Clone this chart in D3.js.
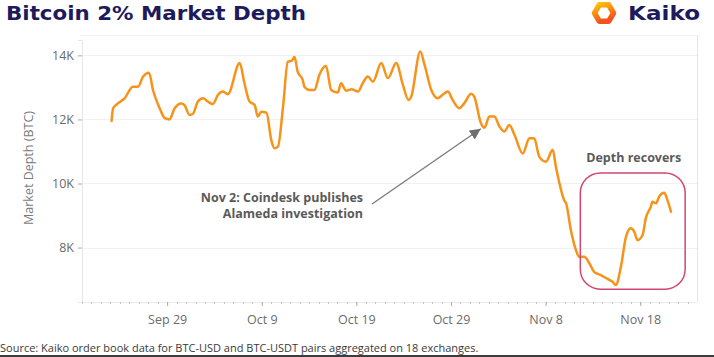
<!DOCTYPE html>
<html><head><meta charset="utf-8">
<script src="https://cdn.jsdelivr.net/npm/d3@7"></script>
<style>html,body{margin:0;padding:0;background:#fff;overflow:hidden}</style>
</head><body><svg id="c" width="714" height="357"></svg>
<script>
const dates = [
"2022-09-23T03","2022-09-23T07","2022-09-23T19","2022-09-24T12","2022-09-25T09","2022-09-25T22","2022-09-26T11","2022-09-27T02","2022-09-27T12","2022-09-28T05",
"2022-09-28T18","2022-09-29T06","2022-09-29T19","2022-09-30T12","2022-09-30T20","2022-10-01T09","2022-10-01T17","2022-10-02T06","2022-10-02T19","2022-10-03T07",
"2022-10-03T20","2022-10-04T09","2022-10-04T21","2022-10-05T10","2022-10-06T16","2022-10-07T04","2022-10-07T17","2022-10-08T06","2022-10-08T14","2022-10-08T23",
"2022-10-09T12","2022-10-10T00","2022-10-10T08","2022-10-10T17","2022-10-11T06","2022-10-11T18","2022-10-12T05","2022-10-12T11","2022-10-12T19","2022-10-13T08",
"2022-10-13T12","2022-10-14T01","2022-10-14T14","2022-10-15T02","2022-10-15T19","2022-10-16T08","2022-10-17T01","2022-10-17T09","2022-10-17T22","2022-10-18T12",
"2022-10-19T04","2022-10-19T16","2022-10-20T05","2022-10-20T18","2022-10-21T15","2022-10-22T08","2022-10-23T05","2022-10-23T22","2022-10-24T12","2022-10-24T19",
"2022-10-25T18","2022-10-26T05","2022-10-26T22","2022-10-27T14","2022-10-28T03","2022-10-28T16","2022-10-29T04","2022-10-29T21","2022-10-30T10","2022-10-31T03",
"2022-10-31T11","2022-11-01T04","2022-11-01T13","2022-11-02T01","2022-11-02T14","2022-11-03T03","2022-11-03T15","2022-11-04T04","2022-11-04T17","2022-11-05T14",
"2022-11-06T07","2022-11-06T19","2022-11-07T08","2022-11-08T01","2022-11-08T18","2022-11-09T02","2022-11-09T11","2022-11-09T23","2022-11-10T04","2022-11-10T16",
"2022-11-11T05","2022-11-11T13","2022-11-12T02","2022-11-12T15","2022-11-13T03","2022-11-13T20","2022-11-14T13","2022-11-15T02","2022-11-15T10","2022-11-15T23",
"2022-11-16T12","2022-11-17T00","2022-11-17T09","2022-11-17T17","2022-11-18T06","2022-11-18T14","2022-11-19T03","2022-11-19T07","2022-11-19T16","2022-11-20T00",
"2022-11-20T13","2022-11-20T21","2022-11-21T06"];
const depth = [
11950,12350,12500,12660,13020,13020,13340,13460,12920,12350,
12040,12000,12350,12500,12450,12140,12170,12560,12660,12560,
12480,12770,12870,12790,13760,13130,12560,12450,12090,12240,
12210,11360,11100,11150,12400,13800,13840,13960,13490,13230,
13020,12920,12920,13390,13670,12920,12840,13130,12900,12940,
12870,13130,13340,13180,13760,13290,13760,13080,12610,12710,
14120,13700,12920,12660,12770,12870,12610,12350,12510,12800,
12710,11880,11740,12090,12090,11780,11620,11830,11520,10940,
11410,11410,10840,10680,11050,10530,10010,9480,9380,8550,
7920,7710,7710,7510,7240,7140,7020,6930,6830,7400,
8340,8600,8490,8230,8390,8910,9280,9430,9380,9590,
9710,9480,9120];
const yTicks = [8000, 10000, 12000, 14000];
const yTickLabels = ["8K", "10K", "12K", "14K"];
const xTickDates = ["2022-09-29","2022-10-09","2022-10-19","2022-10-29","2022-11-08","2022-11-18"];
const xTickLabels = ["Sep 29","Oct 9","Oct 19","Oct 29","Nov 8","Nov 18"];
const titleText = "Bitcoin 2% Market Depth";
const brandText = "Kaiko";
const yTitleText = "Market Depth (BTC)";
const sourceText = "Source: Kaiko order book data for BTC-USD and BTC-USDT pairs aggregated on 18 exchanges.";
const note1Lines = ["Nov 2: Coindesk publishes", "Alameda investigation"];
const note1Target = ["2022-11-01T06", 11740];
const note2Text = "Depth recovers";
const boxRange = {from: "2022-11-11T16", to: "2022-11-22T18", low: 6700, high: 10330};
const xDomain = ["2022-09-20T00", "2022-11-24T00"];
const yDomain = [6300, 14480];

const parse = d3.utcParse("%Y-%m-%dT%H");
const parseDay = d3.utcParse("%Y-%m-%d");
const data = dates.map((d, i) => ({t: parse(d), v: depth[i]}));

const svg = d3.select("#c");
const W = 714, H = 357;
const m = {l: 82, r: 697, t: 40, b: 302};
const FONT = "'Open Sans', 'DejaVu Sans', sans-serif";
const HEAD = "'DejaVu Sans', sans-serif";

svg.append("rect").attr("width", W).attr("height", H).attr("fill", "#fff");
const defs = svg.append("defs");

const x = d3.scaleUtc().domain(xDomain.map(parse)).range([m.l, m.r]);
const y = d3.scaleLinear().domain(yDomain).range([m.b, m.t]);

// title
svg.append("text").attr("x", 6).attr("y", 19.5).attr("font-family", HEAD)
  .attr("font-weight", 700).attr("font-size", 20).attr("fill", "#1d1b5c")
  .attr("textLength", 300).attr("lengthAdjust", "spacingAndGlyphs").text(titleText);

// logo
const logo = svg.append("g").attr("transform", "translate(604,13)");
const grad = defs.append("linearGradient").attr("id", "lg")
  .attr("x1", "0").attr("y1", "0").attr("x2", "0.4").attr("y2", "1");
grad.append("stop").attr("offset", "0").attr("stop-color", "#ffc107");
grad.append("stop").attr("offset", "1").attr("stop-color", "#f4511e");
const hex = d3.range(6).map(i => [9.5 * Math.cos(Math.PI / 3 * i), 9.5 * Math.sin(Math.PI / 3 * i)]);
logo.append("path").attr("d", "M" + hex.join("L") + "Z").attr("fill", "none")
  .attr("stroke", "url(#lg)").attr("stroke-width", 5.5).attr("stroke-linejoin", "round");
svg.append("text").attr("x", 628).attr("y", 19.5).attr("font-family", HEAD)
  .attr("font-weight", 700).attr("font-size", 20).attr("fill", "#1d1b5c")
  .attr("textLength", 72).attr("lengthAdjust", "spacingAndGlyphs").text(brandText);

// frame
svg.append("line").attr("x1", 80).attr("x2", 700).attr("y1", 35.5).attr("y2", 35.5).attr("stroke", "#f2f2f2");
svg.append("line").attr("x1", m.r + 0.5).attr("x2", m.r + 0.5).attr("y1", 36).attr("y2", m.b).attr("stroke", "#e4e4e4");

// grid
svg.append("g").selectAll("line").data(yTicks).join("line")
  .attr("x1", m.l).attr("x2", m.r).attr("y1", d => Math.round(y(d)) + 0.5).attr("y2", d => Math.round(y(d)) + 0.5)
  .attr("stroke", "#f1f1f1");

// y axis
const yAxis = d3.axisLeft(y).tickValues(yTicks).tickFormat((d, i) => yTickLabels[i]).tickSize(4).tickPadding(4);
const gy = svg.append("g").attr("transform", `translate(${m.l},0)`).call(yAxis);
gy.select(".domain").attr("stroke", "#e6e6e6");
gy.selectAll(".tick line").attr("stroke", "#aaa");
gy.selectAll("text").attr("font-family", FONT).attr("font-size", 12.5).attr("fill", "#6b6b6b");

svg.append("text").attr("transform", "translate(33,168) rotate(-90)").attr("text-anchor", "middle")
  .attr("font-family", FONT).attr("font-size", 12.5).attr("fill", "#7a7a7a").text(yTitleText);

// x axis minor ticks
const days = d3.utcDay.range(x.domain()[0], x.domain()[1]);
const gxm = svg.append("g");
gxm.append("line").attr("x1", m.l).attr("x2", m.r).attr("y1", m.b + 0.5).attr("y2", m.b + 0.5).attr("stroke", "#ececec");
gxm.selectAll("line.mt").data(days).join("line").attr("class", "mt")
  .attr("x1", d => Math.round(x(d)) + 0.5).attr("x2", d => Math.round(x(d)) + 0.5)
  .attr("y1", m.b).attr("y2", m.b + 2).attr("stroke", "#c4c4c4");
const xAxis = d3.axisBottom(x).tickValues(xTickDates.map(parseDay)).tickFormat((d, i) => xTickLabels[i]).tickSize(4).tickPadding(9);
const gx = svg.append("g").attr("transform", `translate(0,${m.b})`).call(xAxis);
gx.select(".domain").remove();
gx.selectAll(".tick line").attr("stroke", "#aaa");
gx.selectAll("text").attr("font-family", FONT).attr("font-size", 12.5).attr("fill", "#6b6b6b");

// line
const line = d3.line().x(d => x(d.t)).y(d => y(d.v)).curve(d3.curveMonotoneX);
svg.append("path").datum(data).attr("d", line).attr("fill", "none")
  .attr("stroke", "#f7931a").attr("stroke-width", 2.5).attr("stroke-linejoin", "round").attr("stroke-linecap", "round");

// annotation 1
defs.append("marker").attr("id", "ah").attr("viewBox", "0 0 10 10").attr("refX", 10).attr("refY", 5)
  .attr("markerWidth", 11).attr("markerHeight", 11).attr("markerUnits", "userSpaceOnUse").attr("orient", "auto")
  .append("path").attr("d", "M0,0L10,5L0,10Z").attr("fill", "#6f6f6f");
const tx = x(parse(note1Target[0])), ty = y(note1Target[1]);
svg.append("line").attr("x1", 372).attr("y1", 204).attr("x2", tx - 1).attr("y2", ty + 1)
  .attr("stroke", "#7a7a7a").attr("stroke-width", 1.3).attr("marker-end", "url(#ah)");
svg.append("text").attr("text-anchor", "end").attr("font-family", FONT).attr("font-weight", 700)
  .attr("font-size", 12.5).attr("fill", "#5a5a5a")
  .selectAll("tspan").data(note1Lines).join("tspan").attr("x", 363).attr("y", (d, i) => 202 + i * 15.5).text(d => d);

// annotation 2
const bx0 = x(parse(boxRange.from)), bx1 = x(parse(boxRange.to));
const by0 = y(boxRange.high), by1 = y(boxRange.low);
svg.append("rect").attr("x", bx0).attr("y", by0).attr("width", bx1 - bx0).attr("height", by1 - by0)
  .attr("rx", 20).attr("ry", 20).attr("fill", "none").attr("stroke", "#d4466f").attr("stroke-width", 1.5);
svg.append("text").attr("x", (bx0 + bx1) / 2 + 1).attr("y", 162).attr("text-anchor", "middle")
  .attr("font-family", FONT).attr("font-weight", 700).attr("font-size", 12.5).attr("fill", "#5a5a5a").text(note2Text);

// source
svg.append("text").attr("x", 0).attr("y", 352).attr("font-family", FONT).attr("font-size", 11)
  .attr("fill", "#3a3a3a").text(sourceText);
svg.append("rect").attr("x", 0).attr("y", 355).attr("width", W).attr("height", 2).attr("fill", "#3c3c3c");
</script></body></html>
